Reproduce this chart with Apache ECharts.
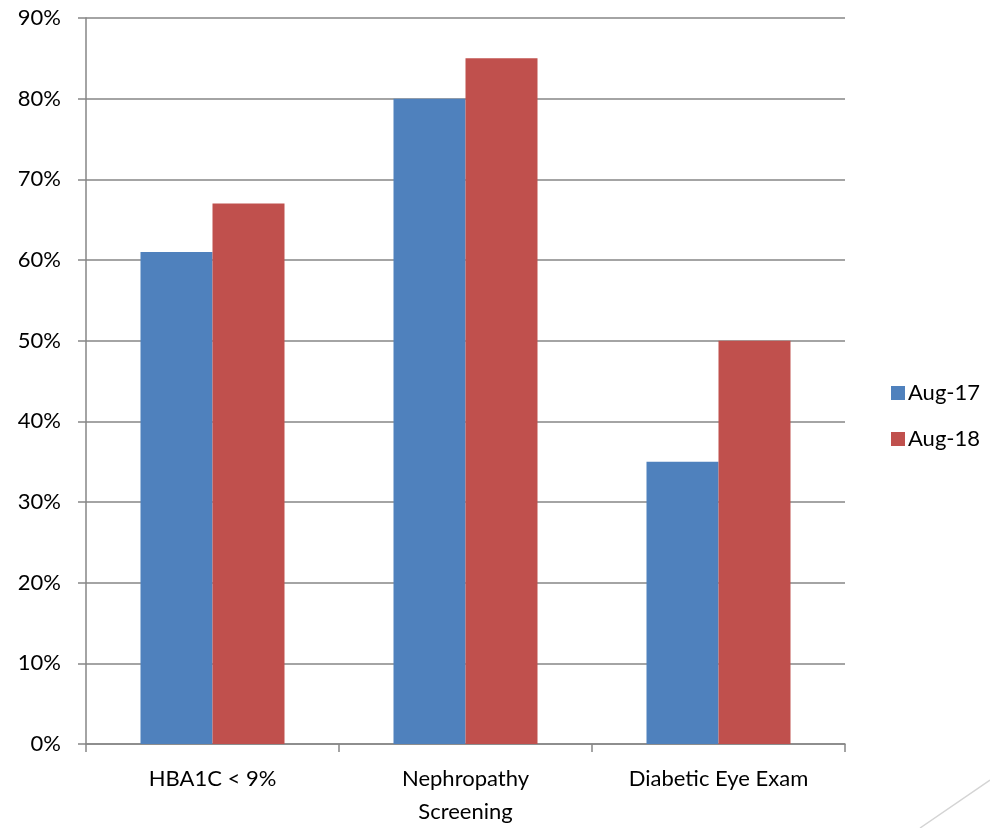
<!DOCTYPE html>
<html>
<head>
<meta charset="utf-8">
<script src="https://cdn.jsdelivr.net/npm/echarts@6/dist/echarts.min.js"></script>
<style>
html,body{margin:0;padding:0;background:#fff;}
#chart{width:990px;height:828px;}
</style>
</head>
<body>
<div id="chart"></div>
<script>
// Diabetes care measures, compared across two years
const categories = ['HBA1C < 9%', 'Nephropathy\nScreening', 'Diabetic Eye Exam'];
const seriesNames = ['Aug-17', 'Aug-18'];
const aug17 = [61, 80, 35];
const aug18 = [67, 85, 50];
const yMin = 0, yMax = 90, yStep = 10;

const FONT = 'Lato';
const gridGray = '#868686';

const chart = echarts.init(document.getElementById('chart'), null, {renderer: 'canvas'});
chart.setOption({
  animation: false,
  backgroundColor: '#fff',
  textStyle: {fontFamily: FONT},
  grid: {left: 86, right: 145, top: 18, bottom: 83, containLabel: false},
  legend: {
    orient: 'vertical',
    left: 886,
    top: 377,
    itemWidth: 14,
    itemHeight: 14,
    itemGap: 24,
    icon: 'rect',
    textStyle: {fontFamily: FONT, fontSize: 22, color: '#000', padding: [0, 0, 0, -2]},
    data: seriesNames
  },
  xAxis: {
    type: 'category',
    data: categories,
    axisLine: {lineStyle: {color: gridGray, width: 1.5}},
    axisTick: {show: true, length: 8, alignWithLabel: false, lineStyle: {color: gridGray, width: 1.5}},
    axisLabel: {fontFamily: FONT, fontSize: 22, color: '#000', margin: 18, lineHeight: 33}
  },
  yAxis: {
    type: 'value',
    min: yMin, max: yMax, interval: yStep,
    axisLine: {show: true, lineStyle: {color: gridGray, width: 1.5}},
    axisTick: {show: true, length: 8, lineStyle: {color: gridGray, width: 1.5}},
    splitLine: {lineStyle: {color: gridGray, width: 1.5}},
    axisLabel: {fontFamily: FONT, fontSize: 22, color: '#000', margin: 25, formatter: v => v + '%'}
  },
  series: [
    {name: seriesNames[0], type: 'bar', data: aug17, barWidth: 72, barGap: '0%',
     itemStyle: {color: '#4F81BD'}},
    {name: seriesNames[1], type: 'bar', data: aug18, barWidth: 72, barGap: '0%',
     itemStyle: {color: '#C0504D'}}
  ],
  graphic: [{
    type: 'line',
    shape: {x1: 920, y1: 828, x2: 990, y2: 780},
    style: {stroke: '#d4d4d4', lineWidth: 1.5}
  }]
});
</script>
</body>
</html>
